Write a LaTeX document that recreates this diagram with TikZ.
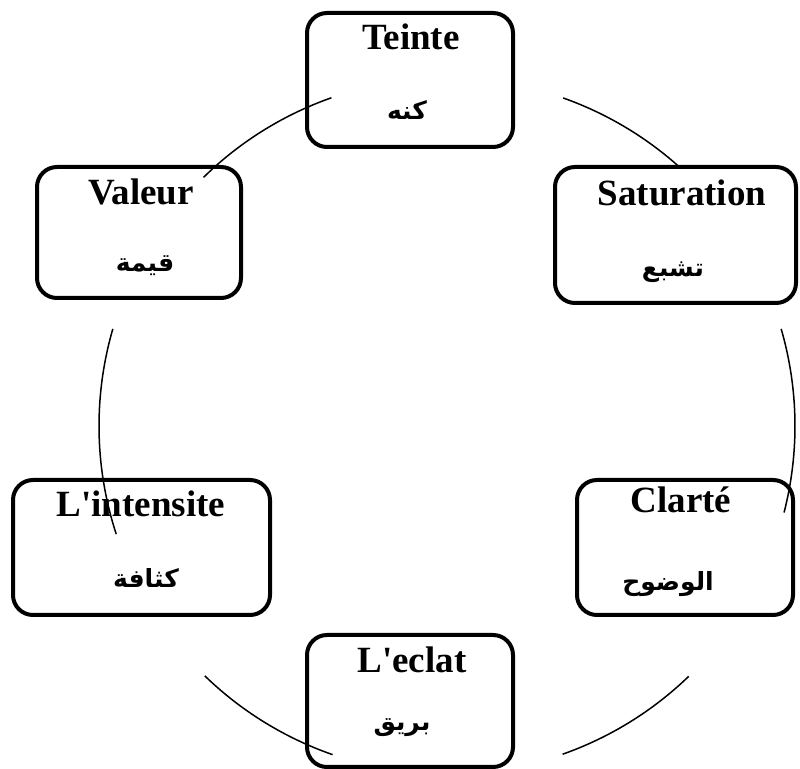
\documentclass[tikz,border=0pt]{standalone}
\usepackage{fontspec}
\setmainfont{Liberation Serif}
\newfontfamily\arabicfont[Script=Arabic]{DejaVu Sans}
\TeXXeTstate=1
\begin{document}
\begin{tikzpicture}[x=0.5pt,y=-0.5pt,
  box/.style={draw, line width=2pt, rounded corners=10pt, inner sep=0pt},
  title/.style={anchor=base, inner sep=0pt, font=\fontsize{18.5}{22}\selectfont\bfseries},
  artext/.style={inner sep=0pt, font=\fontsize{12.5}{14}\arabicfont\bfseries},
  ring/.style={line width=0.75pt}]
\useasboundingbox (0,0) rectangle (800,769);
% boxes
\node[box, minimum width=103pt, minimum height=67pt] (teinte) at (410,80) {};
\node[box, minimum width=102pt, minimum height=65.5pt] (valeur) at (139,232.5) {};
\node[box, minimum width=120.5pt, minimum height=68pt] (saturation) at (675.5,235) {};
\node[box, minimum width=128.5pt, minimum height=67.5pt] (intensite) at (141.5,547.5) {};
\node[box, minimum width=108pt, minimum height=67.5pt] (clarte) at (685,547.5) {};
\node[box, minimum width=103pt, minimum height=66pt] (eclat) at (410,701) {};
% texts
\node[title] (t1) at (411,50) {Teinte};
\node[artext] (a1) at (407,110) {\beginR كنه\endR};
\node[title] (t2) at (141,205) {Valeur};
\node[artext] (a2) at (145,266) {\beginR قيمة\endR};
\node[title] (t3) at (682,206) {Saturation};
\node[artext] (a3) at (673,272) {\beginR تشبع\endR};
\node[title] (t4) at (141,517) {L\textquotesingle intensite};
\node[artext] (a4) at (146,578) {\beginR كثافة\endR};
\node[title] (t5) at (681,513) {Clarté};
\node[artext] (a5) at (668,584) {\beginR الوضوح\endR};
\node[title] (t6) at (412,673) {L\textquotesingle eclat};
\node[artext] (a6) at (402,728) {\beginR بريق\endR};
% ring arcs
\coordinate (c) at (447,426);
\draw[ring] (c) ++(109.4:174pt) arc[start angle=109.4, end angle=134.4, radius=174pt];
\draw[ring] (c) ++(48.3:174pt) arc[start angle=48.3, end angle=70.5, radius=174pt];
\draw[ring] (c) ++(-14.4:174pt) arc[start angle=-14.4, end angle=16.2, radius=174pt];
\draw[ring] (c) ++(163.8:174pt) arc[start angle=163.8, end angle=198.1, radius=174pt];
\draw[ring] (c) ++(225.9:174pt) arc[start angle=225.9, end angle=250.8, radius=174pt];
\draw[ring] (c) ++(289.4:174pt) arc[start angle=289.4, end angle=314, radius=174pt];
\end{tikzpicture}
\end{document}
